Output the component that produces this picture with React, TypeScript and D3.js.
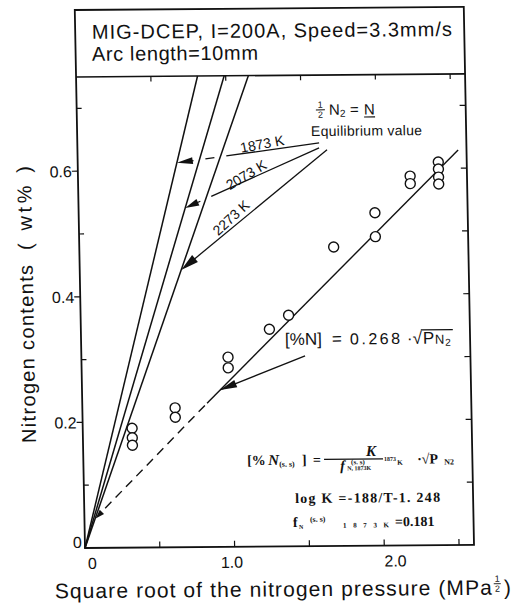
import React from 'react';
import * as d3 from 'd3';

// measured points: sqrt of N2 pressure (MPa^1/2) and nitrogen content (wt%)
const sqrtPressure = [0.33, 0.33, 0.33, 0.62, 0.62, 0.98, 0.98, 1.26, 1.39, 1.7, 1.98, 1.98, 2.22, 2.22, 2.41, 2.41, 2.41, 2.41];
const nitrogen = [0.19, 0.175, 0.163, 0.222, 0.207, 0.302, 0.285, 0.346, 0.368, 0.476, 0.53, 0.492, 0.588, 0.576, 0.61, 0.599, 0.586, 0.575];

// fitted line: dashed from first to second point, solid after
const fitX = [0.14, 0.834, 2.544];
const fitY = [0.063, 0.229, 0.629];
const fitArrowTip = [0.075, 0.047];

// equilibrium lines from the origin, x where they reach 0.75 wt%
const eqTemps = ['1873 K', '2073 K', '2273 K'];
const eqTopX = [0.812, 0.99, 1.152];
const eqArrowStartX = [1.616, 1.615, 1.668];
const eqArrowStartY = [0.642, 0.634, 0.631];
const eqArrowTipY = [0.612, 0.54, 0.4415];
const eqLabelX = [1.235, 1.124, 1.018];
const eqLabelY = [0.641, 0.592, 0.524];
const eqLabelAngle = [-10, -30, -42];

const xTicks = [0.5, 1.0, 1.5, 2.0, 2.5];
const xLabelValues = [0, 1, 2];
const xLabels = ['0', '1.0', '2.0'];
const xLabelShift = [7, -3, 11];
const yTicks = [0.1, 0.2, 0.3, 0.4, 0.5, 0.6, 0.7];
const yMajor = [0.2, 0.4, 0.6];
const yLabels = ['0.2', '0.4', '0.6'];

const W = 522;
const H = 605;
const left = 85, right = 474, frameTop = 10, plotTop = 77, bottom = 548;

type Pt = [number, number];

function arrowHead(tip: Pt, from: Pt, len: number, half: number) {
  const dx = tip[0] - from[0], dy = tip[1] - from[1];
  const d = Math.hypot(dx, dy);
  const ux = dx / d, uy = dy / d;
  const bx = tip[0] - ux * len, by = tip[1] - uy * len;
  return `M${tip[0]},${tip[1]}L${bx - uy * half},${by + ux * half}L${bx + uy * half},${by - ux * half}Z`;
}

function crossT(a: Pt, b: Pt, c: Pt, d: Pt) {
  const r = [b[0] - a[0], b[1] - a[1]];
  const s = [d[0] - c[0], d[1] - c[1]];
  const den = r[0] * s[1] - r[1] * s[0];
  if (Math.abs(den) < 1e-9) return null;
  const q = [c[0] - a[0], c[1] - a[1]];
  const t = (q[0] * s[1] - q[1] * s[0]) / den;
  const u = (q[0] * r[1] - q[1] * r[0]) / den;
  return t > 0 && t < 1 && u > 0 && u < 1 ? t : null;
}

function broken(a: Pt, b: Pt, cuts: number[], gap: number): [Pt, Pt][] {
  const len = Math.hypot(b[0] - a[0], b[1] - a[1]);
  const g = gap / len;
  const at = (t: number): Pt => [a[0] + (b[0] - a[0]) * t, a[1] + (b[1] - a[1]) * t];
  const out: [Pt, Pt][] = [];
  let s = 0;
  [...cuts].sort((m, n) => m - n).forEach((t) => {
    if (t - g > s) out.push([at(s), at(t - g)]);
    s = t + g;
  });
  if (s < 1) out.push([at(s), at(1)]);
  return out;
}

const sans = 'Liberation Sans, Arial, Helvetica, sans-serif';
const serif = 'Liberation Serif, Times New Roman, serif';

export default function App() {
  const x = d3.scaleLinear().domain([0, 2.6]).range([left, right]);
  const y = d3.scaleLinear().domain([0, 0.75]).range([bottom, plotTop]);
  const line = d3.line<Pt>().x((d) => x(d[0])).y((d) => y(d[1]));

  const origin: Pt = [x(0), y(0)];
  const eqTops: Pt[] = eqTopX.map((t) => [x(t), y(0.75)]);
  const headLen = [16, 14, 18];
  const headHalf = [3.5, 3.5, 4.5];

  const eqArrows = eqTemps.map((_, i) => {
    const start: Pt = [x(eqArrowStartX[i]), y(eqArrowStartY[i])];
    const tip: Pt = [x((eqArrowTipY[i] * eqTopX[i]) / 0.75), y(eqArrowTipY[i])];
    const d = Math.hypot(tip[0] - start[0], tip[1] - start[1]);
    const base: Pt = [
      tip[0] - ((tip[0] - start[0]) / d) * (headLen[i] - 1),
      tip[1] - ((tip[1] - start[1]) / d) * (headLen[i] - 1),
    ];
    const cuts: number[] = [];
    eqTops.forEach((top, j) => {
      if (j === i) return;
      const t = crossT(start, base, origin, top);
      if (t !== null) cuts.push(t);
    });
    return { segs: broken(start, base, cuts, 6), head: arrowHead(tip, start, headLen[i], headHalf[i]) };
  });

  const dashed: Pt[] = [[fitX[0], fitY[0]], [fitX[1], fitY[1]]];
  const solid: Pt[] = [[fitX[1], fitY[1]], [fitX[2], fitY[2]]];
  const fitHead = arrowHead([x(fitArrowTip[0]), y(fitArrowTip[1])], [x(fitX[1]), y(fitY[1])], 9, 3);

  const nStart: Pt = [x(1.495), y(0.303)];
  const nTip: Pt = [x(0.9225), y(0.25)];

  const fA: Pt = [x(1.094), y(0.13)];
  const lA: Pt = [x(1.41), y(0.069)];
  const fN: Pt = [x(1.393), y(0.0307)];
  const hA: Pt = [x(1.592), y(0.6866)];
  const eA: Pt = [x(1.563), y(0.653)];
  const rA: Pt = [x(1.363), y(0.3207)];

  return (
    <svg width={W} height={H} style={{ position: 'absolute', left: 0, top: 0, background: '#fff' }}>
      <g transform="matrix(1,-0.008,0.019,1,-10.41,0.68)" fill="none" stroke="#111">
        {/* frame with title box */}
        <rect x={left} y={frameTop} width={right - left} height={bottom - frameTop} strokeWidth={1.8} />
        <line x1={left} x2={right} y1={plotTop} y2={plotTop} strokeWidth={1.6} />

        {/* ticks */}
        {xTicks.map((t) => (
          <g key={'xt' + t} strokeWidth={1.2}>
            <line x1={x(t)} x2={x(t)} y1={bottom} y2={bottom - 6} />
            <line x1={x(t)} x2={x(t)} y1={plotTop} y2={plotTop + 5} />
          </g>
        ))}
        {yTicks.map((t) => (
          <g key={'yt' + t} strokeWidth={1.2}>
            {yMajor.includes(t) ? (
              <line x1={left} x2={left - 6} y1={y(t)} y2={y(t)} />
            ) : (
              <line x1={left} x2={left + 5} y1={y(t)} y2={y(t)} />
            )}
            <line x1={right} x2={right - 6} y1={y(t)} y2={y(t)} />
          </g>
        ))}

        {/* equilibrium lines */}
        {eqTops.map((top, i) => (
          <line key={'eq' + i} x1={origin[0]} y1={origin[1]} x2={top[0]} y2={top[1]} strokeWidth={1.5} />
        ))}
        {eqArrows.map((a, i) => (
          <g key={'ea' + i}>
            {a.segs.map((s, k) => (
              <line key={k} x1={s[0][0]} y1={s[0][1]} x2={s[1][0]} y2={s[1][1]} strokeWidth={1.3} />
            ))}
            <path d={a.head} fill="#111" stroke="none" />
          </g>
        ))}

        {/* fitted line */}
        <path d={line(dashed) || ''} strokeWidth={1.4} strokeDasharray="9,6" />
        <path d={line(solid) || ''} strokeWidth={1.4} />
        <path d={fitHead} fill="#111" stroke="none" />
        <line x1={nStart[0]} y1={nStart[1]} x2={nTip[0]} y2={nTip[1]} strokeWidth={1.3} />
        <path d={arrowHead(nTip, nStart, 17, 4)} fill="#111" stroke="none" />

        {/* data */}
        {sqrtPressure.map((v, i) => (
          <circle key={'p' + i} cx={x(v)} cy={y(nitrogen[i])} r={5} fill="#fff" strokeWidth={1.4} />
        ))}

        <g fill="#111" stroke="none" fontFamily={sans}>
          {/* title box */}
          <text x={101.7} y={39} fontSize={20} textLength={360} lengthAdjust="spacing">
            MIG-DCEP, I=200A, Speed=3.3mm/s
          </text>
          <text x={101.3} y={61} fontSize={20} textLength={166} lengthAdjust="spacing">
            Arc length=10mm
          </text>

          {/* tick labels */}
          {xLabelValues.map((v, i) => (
            <text key={'xl' + i} x={x(v) + xLabelShift[i]} y={569} fontSize={16} textAnchor="middle">
              {xLabels[i]}
            </text>
          ))}
          {yMajor.map((v, i) => (
            <text key={'yl' + i} x={left - 6} y={y(v) + 6} fontSize={16} textAnchor="end">
              {yLabels[i]}
            </text>
          ))}
          <text x={left - 3} y={bottom} fontSize={16} textAnchor="end">0</text>

          {/* axis titles */}
          <text transform={`translate(38,${442.6}) rotate(-90)`} fontSize={20} textLength={178} lengthAdjust="spacing">
            Nitrogen contents
          </text>
          <text transform={`translate(38,${249.6}) rotate(-90)`} fontSize={20} textLength={84} lengthAdjust="spacing">
            ( wt% )
          </text>
          <text x={54} y={598} fontSize={21} textLength={437} lengthAdjust="spacing">
            Square root of the nitrogen pressure (MPa
          </text>
          <text x={494} y={585} fontSize={9}>1</text>
          <line x1={493} x2={500} y1={587} y2={587} stroke="#111" strokeWidth={0.9} />
          <text x={494} y={595} fontSize={9}>2</text>
          <text x={503} y={598} fontSize={21}>)</text>

          {/* equilibrium annotation */}
          <text x={hA[0] + 3} y={hA[1] - 7} fontSize={9}>1</text>
          <line x1={hA[0] + 1} x2={hA[0] + 10} y1={hA[1] - 5} y2={hA[1] - 5} stroke="#111" strokeWidth={1} />
          <text x={hA[0] + 3} y={hA[1] + 3} fontSize={9}>2</text>
          <text x={hA[0] + 14} y={hA[1]} fontSize={15}>N</text>
          <text x={hA[0] + 25} y={hA[1] + 2} fontSize={10}>2</text>
          <text x={hA[0] + 35} y={hA[1]} fontSize={15}>=</text>
          <text x={hA[0] + 49} y={hA[1]} fontSize={15}>N</text>
          <line x1={hA[0] + 49} x2={hA[0] + 60} y1={hA[1] + 2.5} y2={hA[1] + 2.5} stroke="#111" strokeWidth={1.2} />
          <text x={eA[0]} y={eA[1]} fontSize={14} textLength={111} lengthAdjust="spacing">
            Equilibrium value
          </text>
          {eqTemps.map((t, i) => (
            <text
              key={'el' + i}
              transform={`translate(${x(eqLabelX[i])},${y(eqLabelY[i])}) rotate(${eqLabelAngle[i]})`}
              fontSize={14}
              textAnchor="middle"
              dy="0.35em"
            >
              {t}
            </text>
          ))}

          {/* fitted line label */}
          <text x={rA[0]} y={rA[1]} fontSize={17}>[%N]</text>
          <text x={rA[0] + 47} y={rA[1]} fontSize={17}>=</text>
          <text x={rA[0] + 65} y={rA[1]} fontSize={16} letterSpacing={2.5}>0.268</text>
          <text x={rA[0] + 122} y={rA[1]} fontSize={17}>·√</text>
          <text x={rA[0] + 138} y={rA[1]} fontSize={17}>P</text>
          <text x={rA[0] + 150} y={rA[1]} fontSize={13}>N</text>
          <text x={rA[0] + 160} y={rA[1] + 2} fontSize={10}>2</text>
          <line x1={rA[0] + 136} x2={rA[0] + 168} y1={rA[1] - 14} y2={rA[1] - 14} stroke="#111" strokeWidth={1.1} />
        </g>

        {/* equilibrium formula */}
        <g fill="#111" stroke="none" fontFamily={serif} fontWeight="bold">
          <text x={fA[0]} y={fA[1]} fontSize={14}>[%</text>
          <text x={fA[0] + 21} y={fA[1]} fontSize={15} fontStyle="italic">N</text>
          <text x={fA[0] + 32} y={fA[1] + 2} fontSize={8}>(s. s)</text>
          <text x={fA[0] + 55} y={fA[1]} fontSize={14}>]</text>
          <text x={fA[0] + 66} y={fA[1]} fontSize={14}>=</text>
          <line x1={fA[0] + 77} x2={fA[0] + 136} y1={fA[1] - 5} y2={fA[1] - 5} stroke="#111" strokeWidth={1.2} />
          <text x={fA[0] + 119} y={fA[1] - 8} fontSize={15} fontStyle="italic">K</text>
          <text x={fA[0] + 93} y={fA[1] + 6} fontSize={14} fontStyle="italic">f</text>
          <text x={fA[0] + 104} y={fA[1]} fontSize={7}>(s. s)</text>
          <text x={fA[0] + 100} y={fA[1] + 6} fontSize={6}>N, 1873K</text>
          <text x={fA[0] + 137} y={fA[1] - 3} fontSize={6}>1873</text>
          <text x={fA[0] + 150} y={fA[1] + 1} fontSize={7}>K</text>
          <text x={fA[0] + 170} y={fA[1]} fontSize={14}>·√P</text>
          <text x={fA[0] + 197} y={fA[1] + 1} fontSize={8}>N2</text>

          <text x={lA[0]} y={lA[1]} fontSize={14} textLength={145} lengthAdjust="spacing">
            log K =-188/T-1. 248
          </text>

          <text x={fN[0]} y={fN[1]} fontSize={14}>f</text>
          <text x={fN[0] + 6} y={fN[1] + 2} fontSize={6}>N</text>
          <text x={fN[0] + 17} y={fN[1] - 5} fontSize={8}>(s. s)</text>
          <text x={fN[0] + 50} y={fN[1] + 1} fontSize={7} textLength={46} lengthAdjust="spacing">1873K</text>
          <text x={fN[0] + 102} y={fN[1]} fontSize={14}>=0.181</text>
        </g>
      </g>
    </svg>
  );
}
